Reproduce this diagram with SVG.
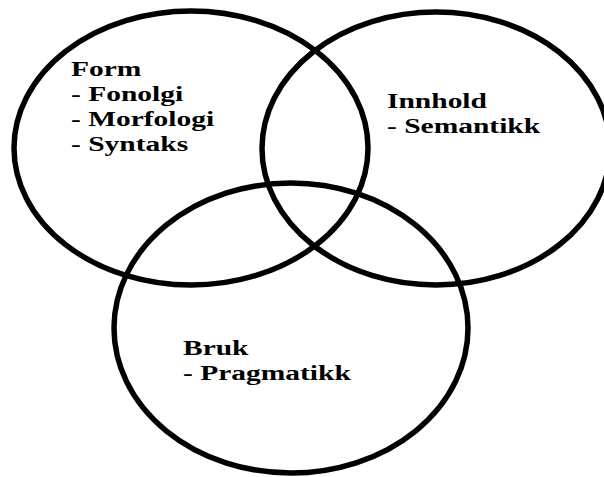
<svg xmlns="http://www.w3.org/2000/svg" width="604" height="477" viewBox="0 0 604 477">
<style>
.c{fill:none;stroke:#000;stroke-width:5.5}
.t{font-family:"Liberation Serif","Times New Roman",serif;font-weight:bold;font-size:22px;fill:#000}
</style>
<rect width="604" height="477" fill="#fff"/>
<g id="form">
<ellipse class="c" cx="191" cy="148" rx="177" ry="137"/>
<text class="t" transform="translate(71,76) scale(1.34,1)"><tspan x="0" y="0">Form</tspan><tspan x="0" y="25">- Fonolgi</tspan><tspan x="0" y="50">- Morfologi</tspan><tspan x="0" y="75">- Syntaks</tspan></text>
</g>
<g id="innhold">
<ellipse class="c" cx="436" cy="148.5" rx="174" ry="136.5"/>
<text class="t" transform="translate(387,108) scale(1.34,1)"><tspan x="0" y="0">Innhold</tspan><tspan x="0" y="25">- Semantikk</tspan></text>
</g>
<g id="bruk">
<ellipse class="c" cx="291" cy="328" rx="177" ry="145"/>
<text class="t" transform="translate(183,355) scale(1.34,1)"><tspan x="0" y="0">Bruk</tspan><tspan x="0" y="25">- Pragmatikk</tspan></text>
</g>
<g id="connectors"/>
</svg>
